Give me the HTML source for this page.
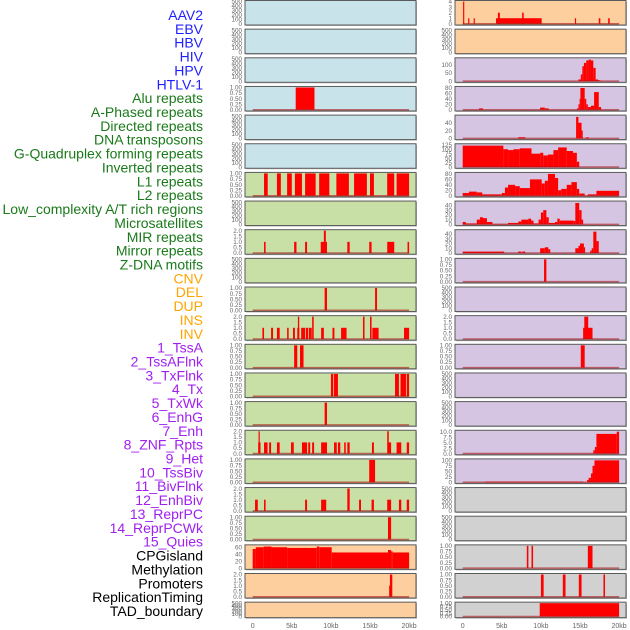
<!DOCTYPE html>
<html><head><meta charset="utf-8">
<style>
html,body{margin:0;padding:0;background:#fff;}
svg{display:block;font-family:"Liberation Sans",sans-serif;}
</style></head>
<body>
<svg id="chart" width="630" height="630" viewBox="0 0 630 630">
<g id="labels"></g>
<g id="panels"></g>
<g id="xaxis"></g>
</svg>
<script>
// ---- label legend data ----
const labelNames = ["AAV2","EBV","HBV","HIV","HPV","HTLV-1","Alu repeats","A-Phased repeats","Directed repeats","DNA transposons","G-Quadruplex forming repeats","Inverted repeats","L1 repeats","L2 repeats","Low_complexity A/T rich regions","Microsatellites","MIR repeats","Mirror repeats","Z-DNA motifs","CNV","DEL","DUP","INS","INV","1_TssA","2_TssAFlnk","3_TxFlnk","4_Tx","5_TxWk","6_EnhG","7_Enh","8_ZNF_Rpts","9_Het","10_TssBiv","11_BivFlnk","12_EnhBiv","13_ReprPC","14_ReprPCWk","15_Quies","CPGisland","Methylation","Promoters","ReplicationTiming","TAD_boundary"];
const labelGroups = [6,13,5,15,5];
const groupColors = ["#1f1fff","#1a7a1a","#ffa500","#a020f0","#000000"];

// ---- x axis ----
const xTickValues = [0,5,10,15,20];
const xTickLabels = ["0","5kb","10kb","15kb","20kb"];

// ---- y tick sets ----
const tEmpty = [0,100,200,300,400,500];
const tOne = [0,0.25,0.5,0.75,1];
const tTwo = [0,0.5,1,1.5,2];

// ---- series: [startKb, endKb, value] ----
const L4 = [[5.5,7.9,1]];
const L7 = [[1.45,1.92,1],[3.1,3.6,1],[4.4,5.0,1],[5.4,6.3,1],[6.7,8.05,1],[8.5,9.8,1],[10.7,12.3,1],[12.96,14.6,1],[15.0,15.5,1],[17.2,18.1,1],[18.4,20.0,1]];
const L9 = [[1.45,1.65,1],[5.3,5.6,1],[6.7,6.95,1],[8.7,9.5,1],[9.1,9.35,2],[12.1,12.4,1],[14.9,15.2,1],[17.2,18.1,1],[19.8,20,1]];
const L11 = [[9.2,9.5,1],[15.65,15.9,1]];
const L12 = [[1.24,1.45,1],[2.35,2.6,1],[3.1,3.45,1],[4.4,4.6,1],[5.15,5.4,1],[5.7,5.95,1],[5.78,5.95,2],[6.2,6.7,1],[6.8,7.1,1],[7.2,7.55,1],[7.6,7.8,2],[8.75,9.1,1],[10.2,10.45,1],[11.3,12.0,1],[14.1,14.3,2],[15.0,15.2,2],[15.3,16.1,1],[19.35,20,1]];
const L13 = [[5.3,5.7,1],[6.05,6.5,1]];
const L14 = [[10.0,10.3,1],[10.4,10.9,1],[18.2,18.7,1],[18.9,19.6,1],[19.7,20,1]];
const L15 = [[9.2,9.5,1]];
const L16 = [[0.7,1.0,1],[0.75,0.9,2],[1.45,1.9,1],[2.1,2.35,1],[3.1,3.45,1],[4.9,5.25,1],[6.3,6.95,1],[7.1,7.35,1],[7.6,7.85,1],[8.75,9.5,1],[10.4,10.75,1],[10.9,11.2,1],[11.7,11.9,1],[12.1,12.4,1],[15.25,15.5,1],[17.2,17.4,2],[17.35,17.7,1],[18.4,19.0,1],[19.7,20,1]];
const L17 = [[14.9,15.65,1]];
const L18 = [[0.3,0.65,1],[1.45,1.65,1],[6.7,6.95,1],[8.75,9.4,1],[12.1,12.4,2],[13.6,13.85,1],[15.2,15.5,1],[17.2,17.7,1],[18.7,19.0,1],[19.7,20,1]];
const L19 = [[17.3,17.7,1]];
const L20 = [[0,0.4,55],[0.4,1.4,60],[1.4,2.4,62],[2.4,4.4,60],[4.4,8.2,58],[8.2,8.5,62],[8.5,10.1,60],[10.1,17.3,45],[17.3,17.7,52],[17.7,17.9,48],[17.9,20,45]];
const L21 = [[17.45,17.6,1],[17.55,17.85,2]];

const R1 = [[0.05,0.2,4],[0.7,0.85,1],[1.4,1.55,1],[4.26,10.1,1],[4.5,4.75,2],[7.6,7.8,2],[14.35,14.5,1],[17.4,17.6,1],[18.6,18.8,1]];
const R3 = [[14.8,15.1,10],[15.1,15.3,40],[15.3,15.5,90],[15.5,15.8,110],[15.8,16.1,125],[16.1,16.4,130],[16.4,16.7,125],[16.7,17.0,80],[17.0,17.3,10],[17.3,17.6,5]];
const R4 = [[2.1,2.6,5],[9.9,10.5,8],[10.5,11.0,5],[14.6,14.8,5],[14.8,14.95,20],[14.95,15.05,40],[15.05,15.6,80],[15.6,15.8,40],[15.8,16.0,20],[16.0,16.4,10],[16.4,16.8,15],[16.8,17.4,65],[17.4,17.7,10]];
const R5 = [[7.1,8.0,3],[14.5,14.8,55],[14.8,15.2,40],[15.2,15.35,20],[15.8,16.1,3]];
const R6 = [[0,5.2,120],[5.2,5.8,100],[5.8,6.5,95],[6.5,7.3,100],[7.3,8.8,105],[8.8,9.9,75],[9.9,10.3,80],[10.3,10.9,65],[10.9,11.6,70],[11.6,12.2,95],[12.2,13.3,110],[13.3,14.1,90],[14.1,14.6,80],[14.6,14.9,30]];
const R7 = [[0,0.8,10],[0.8,1.8,15],[1.8,2.5,12],[2.5,5.0,5],[5.0,5.4,10],[5.4,5.8,30],[5.8,6.7,40],[6.7,7.3,35],[7.3,8.6,28],[8.6,9.25,60],[9.25,10.1,60],[10.1,10.5,45],[10.5,10.9,55],[10.9,11.8,80],[11.8,12.2,65],[12.2,12.6,20],[12.6,13.3,25],[13.3,13.9,40],[13.9,14.6,50],[14.6,14.9,25],[14.9,15.6,8],[16.0,17.1,5],[17.1,20,18]];
const R8 = [[0,0.4,5],[0.4,1.8,2],[1.8,2.2,10],[2.2,2.6,15],[2.6,3.1,13],[3.1,3.8,5],[3.8,5.8,1],[5.8,7.1,3],[7.1,7.5,6],[7.5,8.4,10],[8.4,8.75,12],[8.75,9.05,8],[9.05,9.7,2],[9.7,10.0,10],[10.0,10.3,25],[10.3,10.7,30],[10.7,11.0,15],[11.0,11.8,3],[11.8,12.1,5],[12.1,12.4,12],[12.4,14.2,8],[14.2,14.4,7],[14.4,14.9,45],[14.9,15.2,30],[15.2,15.4,10]];
const R9 = [[0,5.3,3],[7.1,7.5,3],[7.6,8.0,3],[9.9,10.5,10],[10.5,10.95,12],[10.95,11.2,8],[14.4,14.8,10],[14.8,15.0,15],[15.0,15.5,20],[15.5,15.65,12],[16.3,16.5,5],[16.5,16.7,10],[16.7,17.1,45],[17.1,17.4,25]];
const R10 = [[10.4,10.7,1]];
const R12 = [[15.4,16.6,1],[15.55,16.05,2]];
const R13 = [[15.1,15.6,1]];
const R16 = [[16.7,16.9,1.5],[16.9,17.1,3],[17.1,19.7,9],[19.7,20,10]];
const R17 = [[2.9,15.4,3],[15.9,16.1,10],[16.1,16.4,20],[16.4,16.6,40],[16.6,16.85,75],[16.85,20,100]];
const R20 = [[8.2,8.4,1],[8.8,9.0,1],[16.0,16.6,1]];
const R21 = [[10.0,10.35,1],[12.8,13.15,1],[14.85,15.2,1],[18.0,18.2,1]];
const R22 = [[9.85,20,1]];

// ---- row layout (colors/ticks per row) ----
const BLUE="#c8e3ea", GREEN="#c8e0a5", ORANGE="#fdcf9f", PURPLE="#d5c5e2", GRAY="#d1d1d1";
const rows = [
 {L:[BLUE,tEmpty,500,null], R:[ORANGE,[0,1,2,3,4],4,R1]},
 {L:[BLUE,tEmpty,500,null], R:[ORANGE,tEmpty,500,null]},
 {L:[BLUE,tEmpty,500,null], R:[PURPLE,[0,50,100],135,R3]},
 {L:[BLUE,tOne,1,L4], R:[PURPLE,[0,20,40,60,80],82,R4]},
 {L:[BLUE,tEmpty,500,null], R:[PURPLE,[0,20,40],57,R5]},
 {L:[BLUE,tEmpty,500,null], R:[PURPLE,[0,25,50,75,100,125],125,R6]},
 {L:[GREEN,tOne,1,L7], R:[PURPLE,[0,20,40,60,80],82,R7]},
 {L:[GREEN,tEmpty,500,null], R:[PURPLE,[0,10,20,30,40],47,R8]},
 {L:[GREEN,tTwo,2,L9], R:[PURPLE,[0,10,20,30,40],47,R9]},
 {L:[GREEN,tEmpty,500,null], R:[PURPLE,tOne,1,R10]},
 {L:[GREEN,tOne,1,L11], R:[PURPLE,tEmpty,500,null]},
 {L:[GREEN,tTwo,2,L12], R:[PURPLE,tTwo,2,R12]},
 {L:[GREEN,tOne,1,L13], R:[PURPLE,tOne,1,R13]},
 {L:[GREEN,tOne,1,L14], R:[PURPLE,tEmpty,500,null]},
 {L:[GREEN,tOne,1,L15], R:[PURPLE,tEmpty,500,null]},
 {L:[GREEN,tTwo,2,L16], R:[PURPLE,[0,2.5,5,7.5,10],10.2,R16]},
 {L:[GREEN,tOne,1,L17], R:[PURPLE,[0,25,50,75,100],102,R17]},
 {L:[GREEN,tTwo,2,L18], R:[GRAY,tEmpty,500,null]},
 {L:[GREEN,tOne,1,L19], R:[GRAY,tEmpty,500,null]},
 {L:[ORANGE,[0,20,40,60],64,L20], R:[GRAY,tOne,1,R20]},
 {L:[ORANGE,tTwo,2,L21], R:[GRAY,tOne,1,R21]},
 {L:[ORANGE,tEmpty,500,null], R:[GRAY,tOne,1,R22]}
];

const NS="http://www.w3.org/2000/svg";
function mk(tag, attrs, parent){const e=document.createElementNS(NS,tag);for(const k in attrs)e.setAttribute(k,attrs[k]);parent.appendChild(e);return e;}
function fmt(v,ticks){const dec=ticks.some(t=>Math.abs(t-Math.round(t))>1e-9);if(!dec)return String(v);const two=ticks.some(t=>Math.abs(t*10-Math.round(t*10))>1e-9);return v.toFixed(two?2:1);}

// labels
const lg=document.getElementById('labels');
let gi=0,cnt=0;
labelNames.forEach((n,i)=>{
  while(cnt>=labelGroups[gi]){cnt-=labelGroups[gi];gi++;}
  cnt++;
  const t=mk('text',{x:203,y:15+i*13.86+5,'text-anchor':'end','font-size':'14',fill:groupColors[gi]},lg);
  t.textContent=n;
  
  
});

// panels
const pg=document.getElementById('panels');
const cols={L:{x0:245,x1:416,z:252.7},R:{x0:455,x1:626,z:462.7}};
const kbPx=7.82;
function xScale(col,kb){return cols[col].z+kb*kbPx;}
rows.forEach((row,i)=>{
  const top=i*28.65+0.5;
  const h=(i===21)?15.5:24.5;
  const bottom=top+h;
  ['L','R'].forEach(c=>{
    const [bg,ticks,ymax,data]=row[c];
    const C=cols[c];
    const g=mk('g',{},pg);
    
    
    mk('rect',{x:C.x0+1,y:top+1,width:C.x1-C.x0,height:h,fill:'#bbb'},g);
    mk('rect',{x:C.x0,y:top,width:C.x1-C.x0,height:h,fill:bg,stroke:'#5a5a5a','stroke-width':1},g);
    const y0=bottom-1.2, yt=top+1;
    const yS=v=>y0-(v/ymax)*(y0-yt);
    ticks.forEach(t=>{
      const tx=mk('text',{x:C.x0-3,y:yS(t)+2.2,'text-anchor':'end','font-size':'6.3',fill:'#666'},g);
      tx.textContent=fmt(t,ticks);
      
      
    });
    if(data){
      data.forEach(d=>{
        const xa=xScale(c,d[0]), xb=xScale(c,d[1]);
        const r=mk('rect',{x:xa,y:yS(d[2]),width:Math.max(0.8,xb-xa),height:y0-yS(d[2]),fill:'#ff0000'},g);
        
        
      });
      const bl=mk('line',{x1:xScale(c,0),x2:xScale(c,20),y1:y0,y2:y0,stroke:'rgba(170,20,20,0.6)','stroke-width':1.5},g);
      
      
    }
  });
});

// x axes
const xg=document.getElementById('xaxis');
['L','R'].forEach(c=>{
  xTickValues.forEach((v,j)=>{
    const t=mk('text',{x:xScale(c,v),y:628,'text-anchor':'middle','font-size':'7',fill:'#666'},xg);
    t.textContent=xTickLabels[j];
    
    
  });
});
</script>
</body></html>
